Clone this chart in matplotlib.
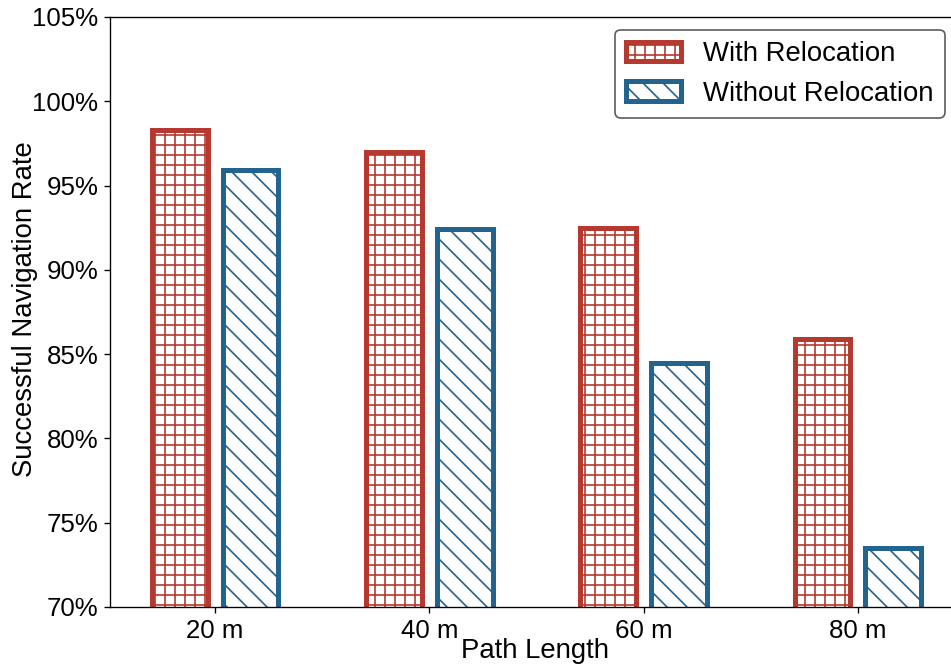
import matplotlib
matplotlib.use("Agg")
import matplotlib.pyplot as plt
import numpy as np

plt.rcParams['font.family'] = ['Liberation Sans', 'DejaVu Sans']
plt.rcParams['hatch.linewidth'] = 1.0

categories = ["20 m", "40 m", "60 m", "80 m"]
with_reloc = [98.3, 97.0, 92.5, 85.9]
without_reloc = [95.9, 92.4, 84.5, 73.5]
yticks = [70, 75, 80, 85, 90, 95, 100, 105]

red = "#b5392f"
blue = "#23648f"

fig = plt.figure(figsize=(951/120, 665/120), dpi=120)
ax = fig.add_axes([110/951, 1-607/665, (960-110)/951, (607-17)/665])

x = np.arange(len(categories))
w = 0.26
off = 0.165
ax.bar(x - off, with_reloc, w, facecolor="white", edgecolor=red, hatch="++",
       linewidth=3, label="With Relocation", zorder=2)
ax.bar(x + off, without_reloc, w, facecolor="white", edgecolor=blue, hatch="\\\\",
       linewidth=3, label="Without Relocation", zorder=2)

ax.set_xlim(-0.49, (960-215)/214.3)
ax.set_ylim(70, 105)
ax.set_yticks(yticks)
ax.set_yticklabels([f"{v}%" for v in yticks])
ax.set_xticks(x)
ax.set_xticklabels(categories)
ax.tick_params(labelsize=15.5)
ax.set_xlabel("Path Length", fontsize=16.5, labelpad=-3)
ax.set_ylabel("Successful Navigation Rate", fontsize=16.5)
ax.yaxis.set_label_coords(-0.0848, 0.505)
leg = ax.legend(loc="upper right", fontsize=16.5, frameon=True, edgecolor="#333333",
                fancybox=True, handlelength=2.0, borderaxespad=0,
                bbox_to_anchor=(0.982, 0.978))
leg.get_frame().set_linewidth(1.0)

fig.savefig("out.png", dpi=120)
